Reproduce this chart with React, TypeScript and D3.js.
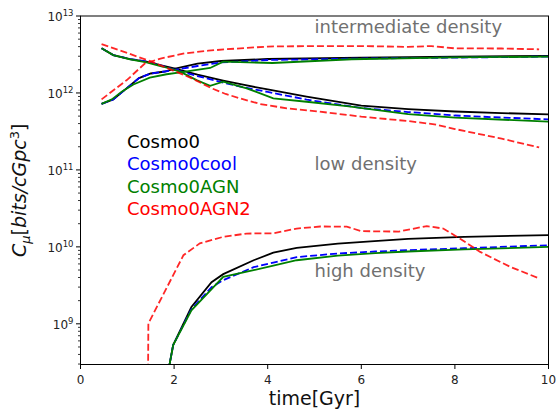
import React, { useEffect, useRef } from 'react';
import * as d3 from 'd3';

// [time in Gyr, C_mu]
const cosmo0Inter = [[0.45, 7.2e11], [0.7, 8.2e11], [0.9, 1.04e12], [1.25, 1.56e12], [1.5, 1.79e12], [1.8, 1.9e12], [2.0, 2.05e12], [2.5, 2.41e12], [3.0, 2.6e12], [4.0, 2.76e12], [6.0, 2.88e12], [8.0, 2.97e12], [10, 3.02e12]];
const cosmo0Low = [[0.45, 3.8e12], [0.7, 3.11e12], [1.06, 2.76e12], [1.41, 2.56e12], [1.75, 2.27e12], [2.0, 2.08e12], [2.5, 1.73e12], [3.05, 1.45e12], [3.5, 1.27e12], [4.0, 1.11e12], [4.83, 8.98e11], [6.0, 6.86e11], [7.0, 6.18e11], [8.0, 5.74e11], [9.0, 5.48e11], [10, 5.27e11]];
const cosmo0High = [[1.88, 2.5e8], [1.98, 5.3e8], [2.37, 1.66e9], [2.8, 3.48e9], [3.05, 4.42e9], [3.7, 6.7e9], [4.12, 8.4e9], [4.62, 9.7e9], [5.5, 1.1e10], [6.2, 1.18e10], [7.0, 1.27e10], [8.2, 1.35e10], [10, 1.42e10]];

const coolInter = [[0.45, 7.2e11], [0.7, 8.2e11], [0.9, 1.04e12], [1.25, 1.56e12], [1.5, 1.79e12], [1.8, 1.9e12], [2.0, 1.99e12], [2.5, 2.24e12], [3.0, 2.49e12], [4.0, 2.68e12], [6.0, 2.8e12], [8.0, 2.88e12], [10, 2.97e12]];
const coolLow = [[0.45, 3.8e12], [0.7, 3.11e12], [1.06, 2.76e12], [1.41, 2.56e12], [1.75, 2.24e12], [2.0, 2.01e12], [2.5, 1.66e12], [3.05, 1.36e12], [3.5, 1.18e12], [4.0, 1.03e12], [4.83, 8.21e11], [6.0, 6.37e11], [7.0, 5.65e11], [8.0, 5.09e11], [9.0, 4.79e11], [10, 4.54e11]];
const coolHigh = [[1.88, 2.5e8], [1.98, 5.3e8], [2.37, 1.55e9], [2.8, 3.0e9], [3.05, 3.69e9], [3.7, 5.45e9], [4.12, 6.24e9], [4.62, 7.35e9], [5.5, 8.2e9], [6.3, 8.7e9], [7.0, 9.06e9], [8.2, 9.6e9], [10, 1.05e10]];

const agnInter = [[0.45, 7.2e11], [0.67, 8.26e11], [0.88, 1.04e12], [1.13, 1.29e12], [1.48, 1.58e12], [1.84, 1.75e12], [2.13, 1.85e12], [2.77, 2.11e12], [3.05, 2.55e12], [4.1, 2.45e12], [5.8, 2.74e12], [8.0, 2.9e12], [10, 2.96e12]];
const agnLow = [[0.45, 3.8e12], [0.7, 3.11e12], [1.06, 2.74e12], [1.41, 2.5e12], [1.77, 2.19e12], [2.13, 1.89e12], [2.48, 1.47e12], [2.77, 1.24e12], [3.05, 1.4e12], [3.55, 1.15e12], [4.12, 8.51e11], [4.83, 7.69e11], [5.69, 6.76e11], [7.0, 5.32e11], [8.0, 4.79e11], [10, 4.23e11]];
const agnHigh = [[1.88, 2.5e8], [1.98, 5.3e8], [2.37, 1.5e9], [3.05, 4.07e9], [3.7, 4.98e9], [4.12, 5.7e9], [4.62, 6.7e9], [5.5, 7.7e9], [6.3, 8.3e9], [7.0, 8.7e9], [8.2, 9.25e9], [10, 1.0e10]];

const agn2Inter = [[0.45, 8.26e11], [0.99, 1.47e12], [1.38, 2.43e12], [1.73, 2.82e12], [2.23, 3.27e12], [2.73, 3.54e12], [3.09, 3.69e12], [4.0, 4.01e12], [5.0, 4.07e12], [6.0, 4.07e12], [7.0, 3.97e12], [7.5, 4.07e12], [8.0, 3.8e12], [9.0, 3.78e12], [9.8, 3.69e12]];
const agn2Low = [[0.45, 4.32e12], [1.02, 3.27e12], [1.52, 2.55e12], [1.95, 1.99e12], [2.38, 1.55e12], [2.8, 1.15e12], [3.1, 9.7e11], [3.41, 8.51e11], [3.84, 7.18e11], [4.41, 6.31e11], [5.0, 5.82e11], [6.0, 4.93e11], [7.0, 4.31e11], [7.6, 3.88e11], [8.0, 3.4e11], [9.0, 2.55e11], [9.8, 1.96e11]];
const agn2High = [[1.44, 1e8], [1.45, 1.01e9], [2.2, 7.8e9], [2.55, 1.11e10], [3.05, 1.35e10], [3.55, 1.49e10], [4.12, 1.5e10], [4.62, 1.73e10], [5.12, 1.84e10], [5.69, 1.83e10], [6.0, 1.6e10], [6.8, 1.58e10], [7.4, 1.86e10], [7.75, 1.73e10], [8.1, 1.29e10], [8.54, 8.6e9], [9.18, 5.5e9], [9.8, 3.9e9]];

const seriesNames = ['Cosmo0', 'Cosmo0cool', 'Cosmo0AGN', 'Cosmo0AGN2'];
const seriesColors = ['#000000', '#0000ff', '#008000', '#ff0000'];
const seriesDashed = [false, true, false, true];
const seriesData = [
  [cosmo0Inter, cosmo0Low, cosmo0High],
  [coolInter, coolLow, coolHigh],
  [agnInter, agnLow, agnHigh],
  [agn2Inter, agn2Low, agn2High],
];

const xTicks = [0, 2, 4, 6, 8, 10];
const yDecades = [9, 10, 11, 12, 13];
const notes = [
  { text: 'intermediate density', t: 5, v: 6.0e12 },
  { text: 'low density', t: 5, v: 9.9e10 },
  { text: 'high density', t: 5, v: 4.0e9 },
];

const W = 557;
const H = 412;
const FONT = 'DejaVu Sans, sans-serif';

const App = () => {
  const svgRef = useRef<SVGSVGElement>(null);

  useEffect(() => {
    const svg = d3.select(svgRef.current);
    svg.selectAll('*').remove();

    const left = 80.5, right = 548.5, top = 16, bottom = 364.5;
    const x = d3.scaleLinear().domain([0, 10]).range([left, right]);
    const y = d3.scaleLog().domain([2.96e8, 1e13]).range([bottom, top]);

    svg.append('rect').attr('width', W).attr('height', H).attr('fill', '#fff');

    svg.append('defs').append('clipPath').attr('id', 'plot-clip')
      .append('rect')
      .attr('x', left).attr('y', top)
      .attr('width', right - left).attr('height', bottom - top);

    const line = d3.line<number[]>()
      .x(d => x(d[0]))
      .y(d => y(d[1]));

    const lines = svg.append('g').attr('clip-path', 'url(#plot-clip)');
    seriesData.forEach((groups, i) => {
      groups.forEach(pts => {
        lines.append('path')
          .attr('d', line(pts))
          .attr('fill', 'none')
          .attr('stroke', seriesColors[i])
          .attr('stroke-width', 1.8)
          .attr('stroke-dasharray', seriesDashed[i] ? '7,3' : null)
          .attr('opacity', i === 3 ? 0.85 : 1);
      });
    });

    // frame
    svg.append('rect')
      .attr('x', left).attr('y', top)
      .attr('width', right - left).attr('height', bottom - top)
      .attr('fill', 'none').attr('stroke', '#000').attr('stroke-width', 1);

    // x ticks
    const xg = svg.append('g');
    xTicks.forEach(t => {
      xg.append('line')
        .attr('x1', x(t)).attr('x2', x(t))
        .attr('y1', bottom).attr('y2', bottom + 4.5)
        .attr('stroke', '#000');
      xg.append('text')
        .attr('x', x(t)).attr('y', bottom + 19)
        .attr('text-anchor', 'middle')
        .style('font-family', FONT).style('font-size', '12px')
        .attr('fill', '#222')
        .text(t);
    });

    // y ticks (log)
    const yg = svg.append('g');
    const [lo, hi] = y.domain();
    for (let k = 8; k <= 12; k++) {
      for (let m = 2; m <= 9; m++) {
        const v = m * Math.pow(10, k);
        if (v < lo || v > hi) continue;
        yg.append('line')
          .attr('x1', left - 2.5).attr('x2', left)
          .attr('y1', y(v)).attr('y2', y(v))
          .attr('stroke', '#000').attr('stroke-width', 0.8);
      }
    }
    yDecades.forEach(k => {
      const v = Math.pow(10, k);
      yg.append('line')
        .attr('x1', left - 4.5).attr('x2', left)
        .attr('y1', y(v)).attr('y2', y(v))
        .attr('stroke', '#000');
      const txt = yg.append('text')
        .attr('x', left - 7).attr('y', y(v) + 5)
        .attr('text-anchor', 'end')
        .style('font-family', FONT).style('font-size', '12px')
        .attr('fill', '#222');
      txt.append('tspan').text('10');
      txt.append('tspan').attr('dy', -5).style('font-size', '8.5px').text(String(k));
    });

    // axis labels
    svg.append('text')
      .attr('x', (left + right) / 2).attr('y', 405)
      .attr('text-anchor', 'middle')
      .style('font-family', FONT).style('font-size', '19px')
      .attr('fill', '#111')
      .text('time[Gyr]');

    const yl = svg.append('text')
      .attr('transform', `translate(26,${(top + bottom) / 2}) rotate(-90)`)
      .attr('text-anchor', 'middle')
      .style('font-family', FONT).style('font-size', '19px')
      .attr('fill', '#111');
    yl.append('tspan').style('font-style', 'italic').text('C');
    yl.append('tspan').attr('dy', 4).style('font-style', 'italic').style('font-size', '13px').text('μ');
    yl.append('tspan').attr('dy', -4).text('[');
    yl.append('tspan').style('font-style', 'italic').text('bits/cGpc');
    yl.append('tspan').attr('dy', -7).style('font-size', '13px').text('3');
    yl.append('tspan').attr('dy', 7).text(']');

    // legend (coloured labels only)
    seriesNames.forEach((name, i) => {
      svg.append('text')
        .attr('x', 127).attr('y', 147.5 + i * 22.5)
        .style('font-family', FONT).style('font-size', '18px')
        .attr('fill', seriesColors[i])
        .text(name);
    });

    // region notes
    notes.forEach(n => {
      svg.append('text')
        .attr('x', x(n.t)).attr('y', y(n.v))
        .style('font-family', FONT).style('font-size', '18px')
        .attr('fill', '#707070')
        .text(n.text);
    });
  }, []);

  return (
    <svg
      ref={svgRef}
      width={W}
      height={H}
      style={{ position: 'absolute', left: 0, top: 0 }}
    />
  );
};

export default App;
